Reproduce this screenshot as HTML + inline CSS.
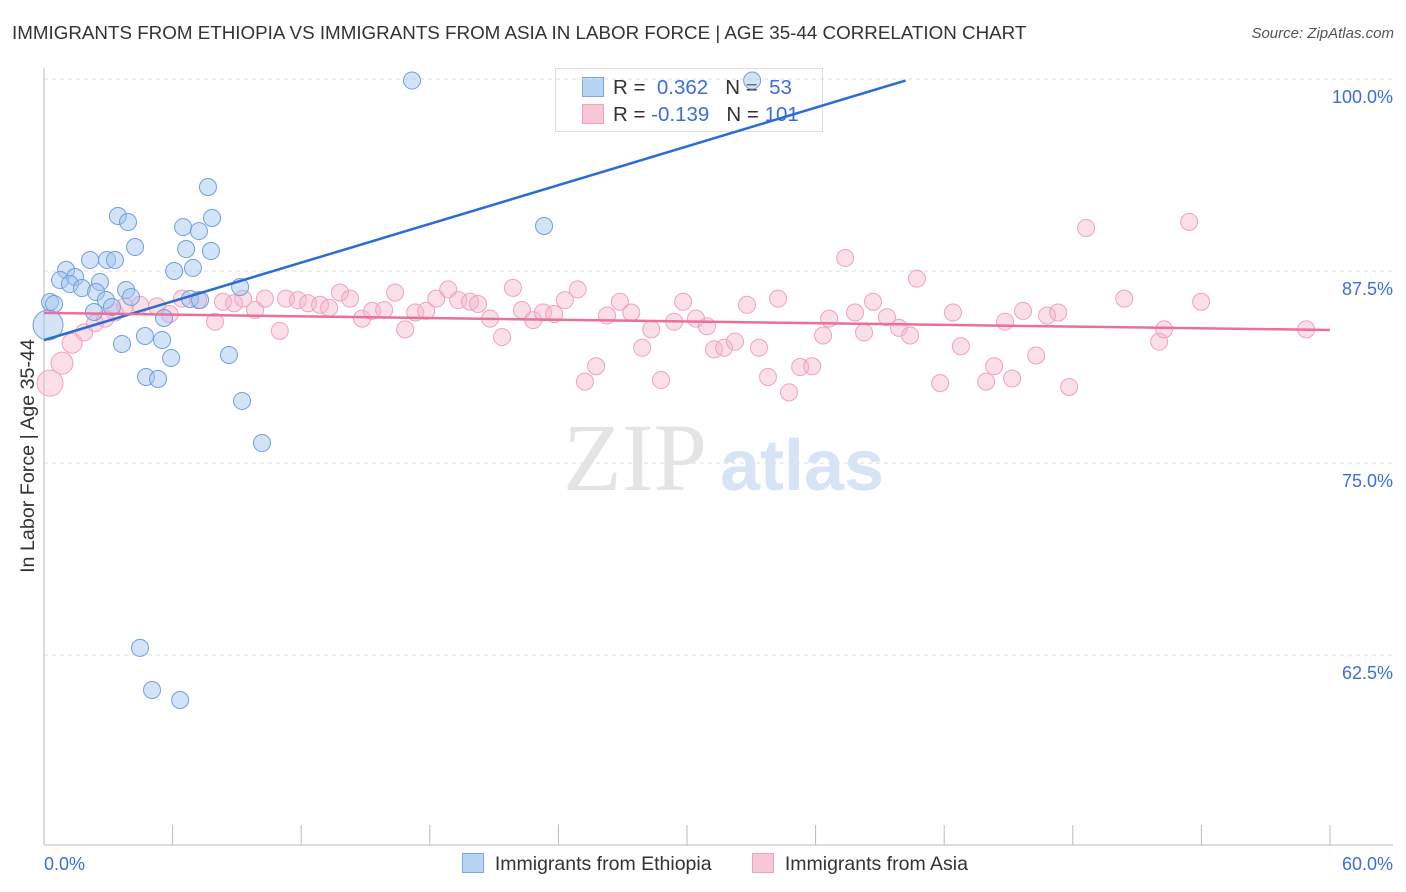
<!DOCTYPE html>
<html><head><meta charset="utf-8"><style>
body{margin:0;background:#fff;font-family:"Liberation Sans",sans-serif;}
#wrap{position:relative;width:1406px;height:892px;overflow:hidden;}
.t{position:absolute;white-space:nowrap;}
</style></head><body>
<div id="wrap">
<div class="t" style="left:12px;top:22px;font-size:18.8px;color:#333;">IMMIGRANTS FROM ETHIOPIA VS IMMIGRANTS FROM ASIA IN LABOR FORCE | AGE 35-44 CORRELATION CHART</div>
<div class="t" style="right:12px;top:25px;font-size:15px;color:#555;font-style:italic;">Source: ZipAtlas.com</div>
<div style="position:absolute;left:555px;top:68px;width:266px;height:62px;border:1px solid #ddd;background:#fff;font-size:20.5px;">
 <div style="position:absolute;left:26px;top:8px;width:20px;height:18px;background:#b9d3f5;border:1px solid #7aa8e0"></div>
 <div class="t" style="left:57px;top:7px;color:#333">R = <span style="color:#3a6fd8">&nbsp;0.362</span>&nbsp;&nbsp;&nbsp;N = <span style="color:#3a6fd8">&nbsp;53</span></div>
 <div style="position:absolute;left:26px;top:35px;width:20px;height:18px;background:#f8c7d6;border:1px solid #efa3bc"></div>
 <div class="t" style="left:57px;top:34px;color:#333">R = <span style="color:#3a6fd8">-0.139</span>&nbsp;&nbsp;&nbsp;N = <span style="color:#3a6fd8">101</span></div>
</div>
<svg id="svg" width="1406" height="892" style="position:absolute;left:0;top:0"></svg>
</div>
<script>
const yTicks=[100,87.5,75,62.5];
const yTickLabels=["100.0%","87.5%","75.0%","62.5%"];
const xTickLabels=["0.0%","60.0%"];
const ethX=[17.17,33.04,7.65,3.45,3.92,7.84,6.49,7.23,23.33,4.25,6.63,7.79,2.15,2.94,3.31,1.03,6.07,6.95,0.75,1.45,2.61,1.21,1.77,9.15,3.83,2.43,0.28,0.47,2.89,4.06,6.81,7.28,3.17,2.33,5.6,0.19,4.71,5.51,3.64,5.93,8.63,4.76,5.32,9.24,10.17,4.48,5.04,6.35];
const ethY=[99.9,99.9,92.97,91.08,90.69,90.95,90.36,90.1,90.43,89.06,88.93,88.8,88.22,88.22,88.22,87.57,87.5,87.7,86.91,87.11,86.78,86.65,86.39,86.46,86.26,86.13,85.48,85.35,85.61,85.81,85.68,85.61,85.16,84.83,84.44,83.98,83.27,83.01,82.75,81.84,82.03,80.6,80.47,79.04,76.3,62.96,60.22,59.57];
const asiaX=[0.28,0.84,1.31,1.87,2.38,2.85,3.31,3.78,4.48,5.27,5.86,6.44,7.19,7.98,8.35,8.87,9.29,9.85,10.31,11.0,11.29,11.85,12.32,12.88,13.3,13.81,14.28,14.84,15.31,15.87,16.38,16.85,17.32,17.83,18.3,18.86,19.33,19.88,20.25,20.81,21.37,21.88,22.3,22.82,23.28,23.8,24.3,24.9,25.24,25.76,26.27,26.87,27.4,27.91,28.33,28.79,29.4,29.82,30.42,30.93,31.26,31.73,32.24,32.8,33.36,33.78,34.25,34.76,35.28,35.84,36.35,36.63,37.38,37.84,38.26,38.68,39.33,39.89,40.41,40.73,41.81,42.41,42.78,43.96,44.33,44.84,45.17,45.68,46.29,46.8,47.32,47.83,48.62,50.4,52.03,52.26,53.43,53.99,58.89];
const asiaY=[80.2,81.5,82.8,83.5,84.1,84.4,84.8,85.2,85.3,85.2,84.7,85.7,85.6,84.2,85.5,85.4,85.7,84.96,85.7,83.6,85.7,85.6,85.4,85.3,85.1,86.1,85.7,84.4,84.9,84.96,86.1,83.7,84.8,84.9,85.7,86.3,85.6,85.5,85.35,84.4,83.2,86.4,84.96,84.3,84.8,84.7,85.6,86.3,80.3,81.3,84.6,85.5,84.8,82.5,83.7,80.4,84.2,85.5,84.4,83.9,82.4,82.5,82.9,85.3,82.5,80.6,85.7,79.6,81.25,81.3,83.3,84.4,88.35,84.8,83.5,85.5,84.5,83.8,83.3,87.0,80.2,84.8,82.6,80.3,81.3,84.2,80.5,84.9,82.0,84.6,84.8,79.95,90.3,85.7,82.9,83.7,90.7,85.5,83.7];
const ethTrend=[[0,83.0],[40.2,99.9]];
const asiaTrend=[[0,84.77],[60,83.66]];
const X=p=>44+p*21.433;
const Y=v=>79+(100-v)*15.36;
const svg=document.getElementById('svg');
const NS='http://www.w3.org/2000/svg';
function mk(t,a){const e=document.createElementNS(NS,t);for(const k in a)e.setAttribute(k,a[k]);svg.appendChild(e);return e;}
yTicks.forEach((v,i)=>{
 const g=mk('line',{x1:44,x2:1393,y1:Y(v),y2:Y(v),stroke:'#ddd','stroke-dasharray':'4,4'});
 
 
 const t=mk('text',{x:1393,y:Y(v)+24,'text-anchor':'end','font-size':18,fill:'#3a6fd8','font-family':'Liberation Sans, sans-serif'});
 t.textContent=yTickLabels[i];
 
 
});
mk('line',{x1:44,x2:44,y1:68,y2:845,stroke:'#bbb'});
mk('line',{x1:44,x2:1393,y1:845,y2:845,stroke:'#bbb'});
for(let i=0;i<=10;i++){const l=mk('line',{x1:X(i*6),x2:X(i*6),y1:825,y2:845,stroke:'#bbb'});
 
 }
[[0,'start',44],[1,'end',1393]].forEach(([i,a,x])=>{const t=mk('text',{x:x,y:870,'text-anchor':a,'font-size':18,fill:'#3a6fd8','font-family':'Liberation Sans, sans-serif'});t.textContent=xTickLabels[i];
 
 });
const w1=mk('text',{x:635,y:490,'text-anchor':'middle','font-size':96,fill:'#e4e4e4','font-family':'Liberation Serif, serif'});w1.textContent='ZIP';


const w2=mk('text',{x:802,y:490,'text-anchor':'middle','font-size':72,fill:'#d6e4f5','font-family':'Liberation Sans, sans-serif','font-weight':'bold'});w2.textContent='atlas';


const yt=mk('text',{x:0,y:0,transform:'translate(34,456) rotate(-90)','text-anchor':'middle','font-size':19.7,fill:'#333','font-family':'Liberation Sans, sans-serif'});yt.textContent='In Labor Force | Age 35-44';


asiaX.forEach((p,i)=>{const r=i==0?13:i==1?11:i==2?10:8.5;
 const c=mk('circle',{cx:X(p),cy:Y(asiaY[i]),r:r,fill:'rgba(246,178,200,0.42)',stroke:'#efa3bc','stroke-width':1});
 
 });
ethX.forEach((p,i)=>{const r=i==35?15:8.5;
 const c=mk('circle',{cx:X(p),cy:Y(ethY[i]),r:r,fill:'rgba(160,196,240,0.45)',stroke:'#6f9fe0','stroke-width':1});
 
 });
const l1=mk('line',{x1:X(ethTrend[0][0]),y1:Y(ethTrend[0][1]),x2:X(ethTrend[1][0]),y2:Y(ethTrend[1][1]),stroke:'#2b6cd4','stroke-width':2.5});


const l2=mk('line',{x1:X(asiaTrend[0][0]),y1:Y(asiaTrend[0][1]),x2:X(asiaTrend[1][0]),y2:Y(asiaTrend[1][1]),stroke:'#e8709a','stroke-width':2.5});


</script>
<div style="position:absolute;left:462px;top:853px;font-size:19.5px;color:#333;">
 <span style="display:inline-block;width:20px;height:18px;background:#b9d3f5;border:1px solid #7aa8e0;vertical-align:-3px"></span>&nbsp; Immigrants from Ethiopia</div>
<div style="position:absolute;left:752px;top:853px;font-size:19.5px;color:#333;">
 <span style="display:inline-block;width:20px;height:18px;background:#f8c7d6;border:1px solid #efa3bc;vertical-align:-3px"></span>&nbsp; Immigrants from Asia</div>
</body></html>
